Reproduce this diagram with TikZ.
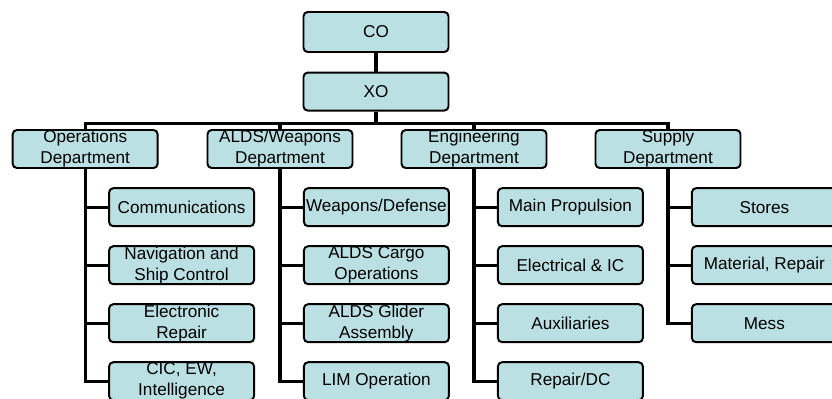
\documentclass[tikz,border=0pt]{standalone}
\usepackage{fontspec}
\setmainfont{Liberation Sans}
\definecolor{cajaazul}{RGB}{187,224,227}
\begin{document}
\begin{tikzpicture}[
  box/.style={draw=black, line width=1.4pt, rounded corners=3pt, fill=cajaazul, minimum width=3.625cm, minimum height=0.95cm, inner sep=0pt, align=center, font=\fontsize{12.2}{15}\selectfont},
  edge/.style={line width=2.2pt, draw=black}
]
  \useasboundingbox (0,0) rectangle (20.8,-9.95);

  % Mando: CO y XO
  \node[box, minimum height=1cm] (co) at (9.4,-0.8) {CO};
  \node[box] (xo) at (9.4,-2.29) {XO};

  % Departamentos
  \node[box] (d1) at (2.13,-3.725) {Operations\\Department};
  \node[box] (d2) at (7.0,-3.725) {ALDS/Weapons\\Department};
  \node[box] (d3) at (11.85,-3.725) {Engineering\\Department};
  \node[box] (d4) at (16.7,-3.725) {Supply\\Department};

  % Divisiones de Operations
  \node[box] (c11) at (4.54,-5.18) {Communications};
  \node[box] (c12) at (4.54,-6.63) {Navigation and\\Ship Control};
  \node[box] (c13) at (4.54,-8.08) {Electronic\\Repair};
  \node[box] (c14) at (4.54,-9.53) {CIC, EW,\\Intelligence};

  % Divisiones de ALDS/Weapons
  \node[box] (c21) at (9.41,-5.18) {Weapons/Defense};
  \node[box] (c22) at (9.41,-6.63) {ALDS Cargo\\Operations};
  \node[box] (c23) at (9.41,-8.08) {ALDS Glider\\Assembly};
  \node[box] (c24) at (9.41,-9.53) {LIM Operation};

  % Divisiones de Engineering
  \node[box] (c31) at (14.26,-5.18) {Main Propulsion};
  \node[box] (c32) at (14.26,-6.63) {Electrical \& IC};
  \node[box] (c33) at (14.26,-8.08) {Auxiliaries};
  \node[box] (c34) at (14.26,-9.53) {Repair/DC};

  % Divisiones de Supply
  \node[box] (c41) at (19.11,-5.18) {Stores};
  \node[box] (c42) at (19.11,-6.63) {Material, Repair};
  \node[box] (c43) at (19.11,-8.08) {Mess};

  % Líneas de mando
  \draw[edge] (co) -- (xo);
  \draw[edge] (xo.south) -- ++(0,-0.3) coordinate (bus);
  \draw[edge] (d1.north) |- (bus) -| (d4.north);
  \foreach \j in {2,3} {
    \draw[edge] (d\j.north) -- (d\j.north |- bus);
  }

  % Ramas hacia las divisiones
  \foreach \j/\n in {1/4, 2/4, 3/4, 4/3} {
    \foreach \i in {1,...,\n} {
      \draw[edge] (d\j.south) |- (c\j\i.west);
    }
  }
\end{tikzpicture}
\end{document}
